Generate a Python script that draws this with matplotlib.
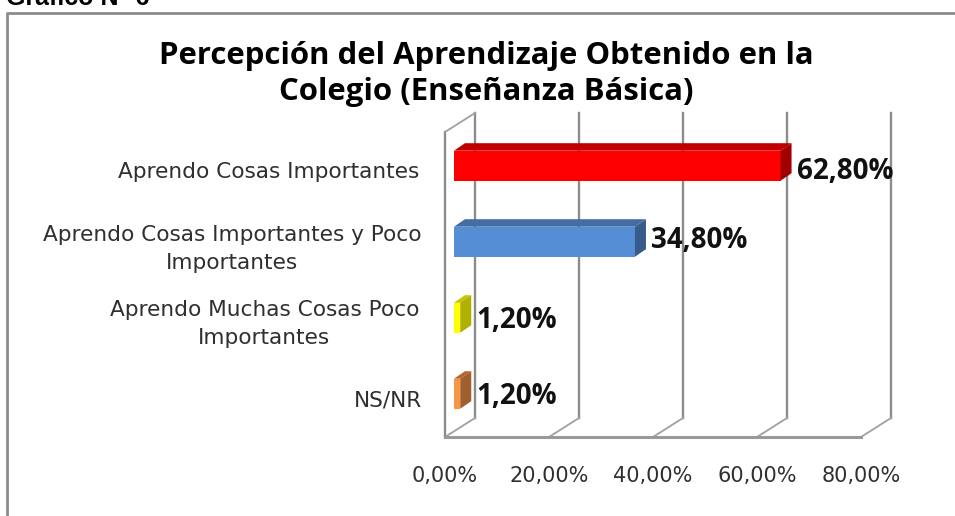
import matplotlib
matplotlib.use('Agg')
import matplotlib.pyplot as plt
from matplotlib.patches import Polygon

# datos del grafico
categorias = ['Aprendo Cosas Importantes',
              'Aprendo Cosas Importantes y Poco\nImportantes',
              'Aprendo Muchas Cosas Poco\nImportantes',
              'NS/NR']
valores = [62.8, 34.8, 1.2, 1.2]
etiquetas = ['62,80%', '34,80%', '1,20%', '1,20%']
ticks = [0, 20, 40, 60, 80]
tick_labels = ['0,00%', '20,00%', '40,00%', '60,00%', '80,00%']

col_frente = ['#ff0000', '#558ed5', '#ffff00', '#f79646']
col_arriba = ['#c00000', '#426da5', '#c4c400', '#b5652b']
col_lado = ['#a00000', '#375c8c', '#b0b000', '#a05f2c']
gris = '#8c8c8c'

W, H = 955, 516
plt.rcParams['font.family'] = ['Open Sans', 'DejaVu Sans']
fig = plt.figure(figsize=(W / 100, H / 100), dpi=100)

# eje: x 445..891 px, y 113..437 px
L, R, T, B = 445, 891, 113, 437
ax = fig.add_axes([L / W, 1 - B / H, (R - L) / W, (B - T) / H])
px_x = 5.2     # px por 1%
px_y = 76      # px entre categorias
ax.set_xlim(0, (R - L) / px_x)
ax.set_ylim((B - 165.7) / px_y, (T - 165.7) / px_y)
ax.axis('off')

# profundidad de la pared (px -> datos)
dx, dy = 30 / px_x, 19 / px_y
y_suelo = ax.get_ylim()[0]
y_top = ax.get_ylim()[1]

# paredes y rejilla
for t in ticks:
    ax.plot([t + dx, t + dx], [y_top, y_suelo - dy], color=gris, lw=1.7, clip_on=False)
    ax.plot([t, t + dx], [y_suelo, y_suelo - dy], color='#a0a0a0', lw=1.3, clip_on=False)
ax.plot([0, 0], [y_suelo, y_top + dy], color=gris, lw=1.7, clip_on=False)
ax.plot([0, dx], [y_top + dy, y_top], color='#a0a0a0', lw=1.3, clip_on=False)
ax.plot([0, 80], [y_suelo, y_suelo], color='#999999', lw=2.2, clip_on=False)

# barras con cara superior y lateral
x0 = 9 / px_x
alto = 30 / px_y
prof_x, prof_y = 11 / px_x, 7.5 / px_y
ys = list(range(len(valores)))
ajuste = [0.07, -0.02, 0.04, 0.04]   # la etiqueta no queda siempre centrada
ax.barh(ys, valores, left=x0, height=alto, color=col_frente, zorder=3)
for y, v, ca, cl, et, aj in zip(ys, valores, col_arriba, col_lado, etiquetas, ajuste):
    x1 = x0 + v
    arriba = y - alto / 2
    abajo = y + alto / 2
    ax.add_patch(Polygon([(x0, arriba), (x1, arriba), (x1 + prof_x, arriba - prof_y),
                          (x0 + prof_x, arriba - prof_y)], color=ca, lw=0, zorder=3))
    ax.add_patch(Polygon([(x1, arriba), (x1 + prof_x, arriba - prof_y),
                          (x1 + prof_x, abajo - prof_y), (x1, abajo)], color=cl, lw=0, zorder=3))
    ax.text(x1 + prof_x + 5 / px_x, y + aj, et, fontsize=20, fontweight='bold',
            color='#111111', va='center', ha='left', zorder=4)

# etiquetas de categorias
centros = [172, 249, 324, 400]
derecha = [419, 421, 419, 422]
for c, yp, xd in zip(categorias, centros, derecha):
    fig.text(xd / W, 1 - yp / H, c, fontsize=15.6, family='DejaVu Sans', color='#303030', ha='right',
             va='center', multialignment='center', linespacing=1.5)

for t, lab in zip(ticks, tick_labels):
    ax.text(t, y_suelo + 39 / px_y, lab, fontsize=15, family='DejaVu Sans', color='#303030',
            ha='center', va='center', clip_on=False)

# titulo
fig.text(486 / W, 1 - 74 / H, 'Percepción del Aprendizaje Obtenido en la\nColegio (Enseñanza Básica)',
         fontsize=22.4, fontweight='bold', color='black', ha='center', va='center', linespacing=1.28)

# marco del grafico y texto cortado arriba
fig.add_artist(plt.Line2D([7 / W, 7 / W, 955 / W], [0, 1 - 13 / H, 1 - 13 / H], color=gris, lw=2))
fig.text(6 / W, 1 - 5 / H, 'Gráfico N° 6', fontsize=18, fontweight='bold', family='Liberation Sans',
         ha='left', va='baseline')

fig.savefig('out.png', dpi=100)
